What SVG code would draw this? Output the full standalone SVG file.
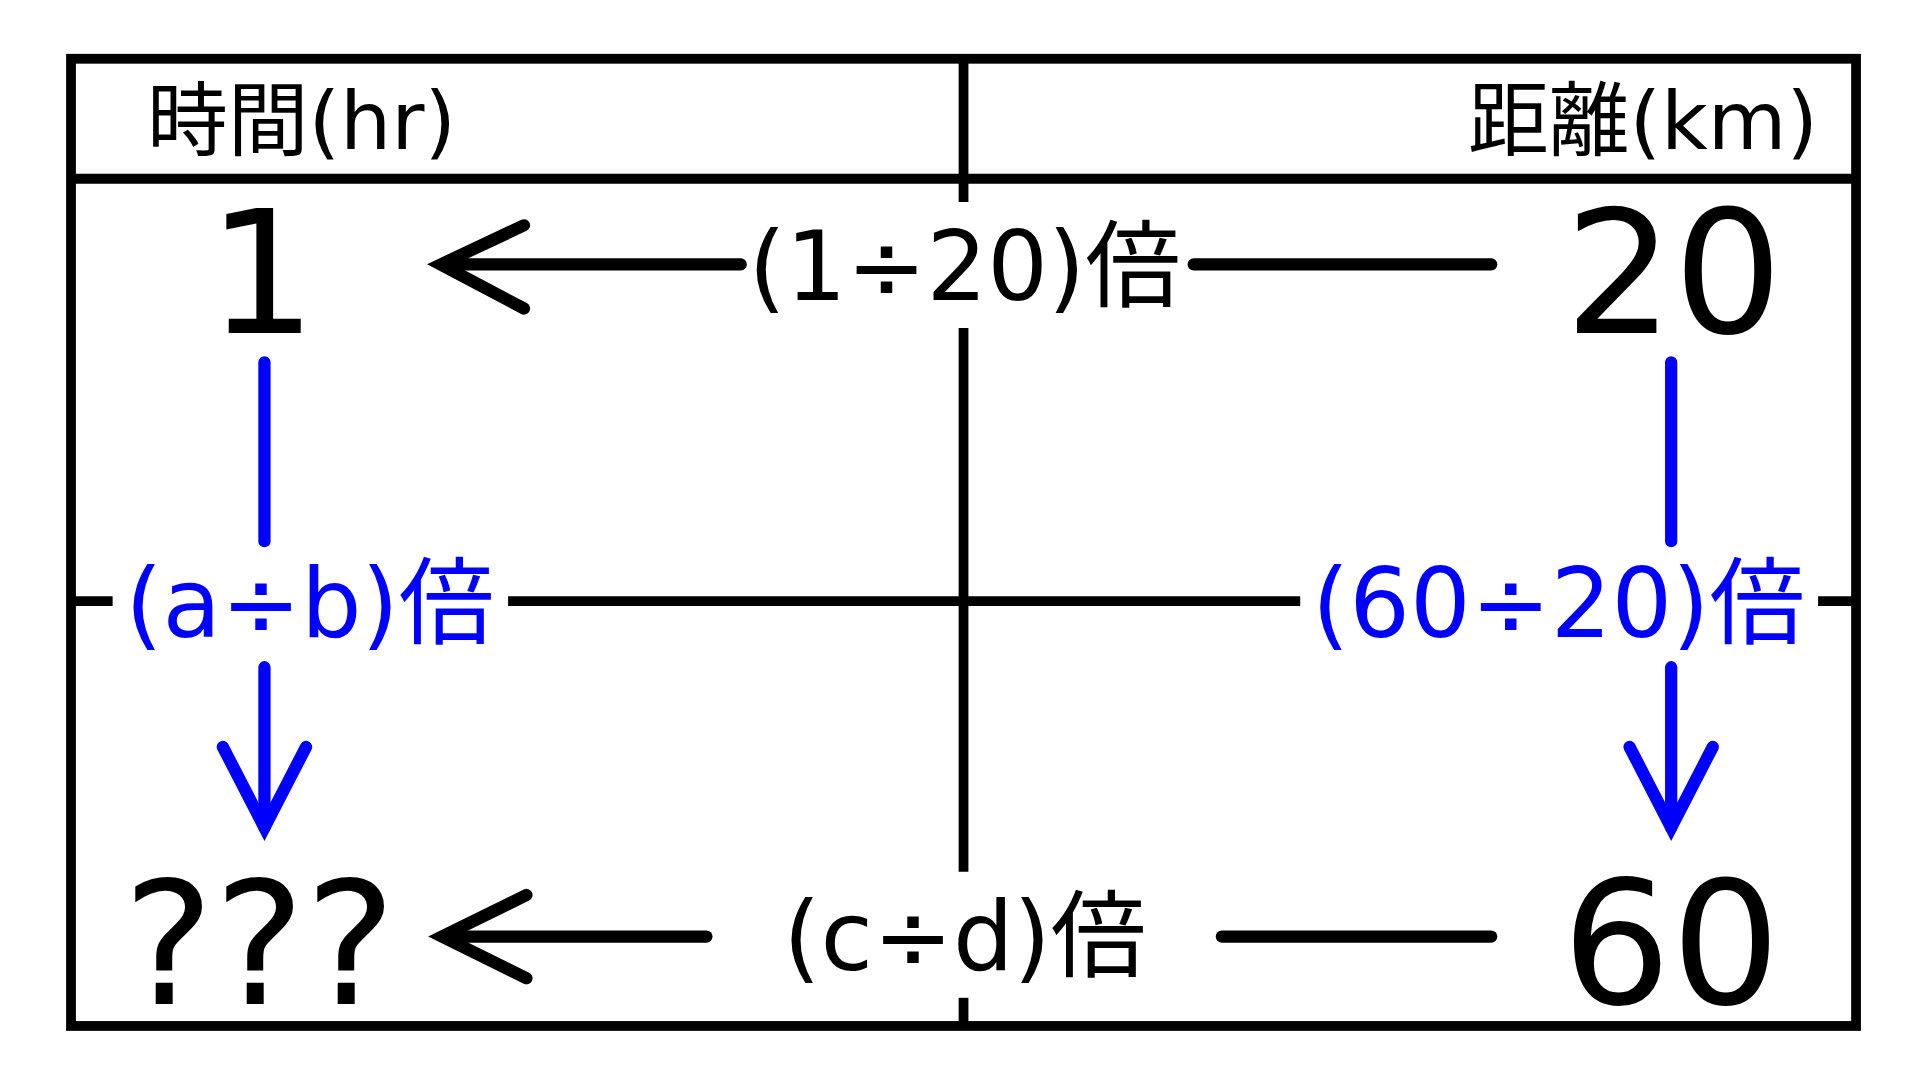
<svg xmlns="http://www.w3.org/2000/svg" width="1920" height="1080" viewBox="0 0 1920 1080">
<style>
.k{stroke:#000;stroke-width:8;fill:none}
.a{stroke:#000;stroke-width:10;fill:none;stroke-linecap:round;stroke-linejoin:miter}
.b{stroke:#0000ff;stroke-width:10;fill:none;stroke-linecap:round}
text{font-family:"DejaVu Sans","Noto Sans CJK JP",sans-serif}
.big{font-size:140px;text-anchor:middle}
.lab{font-size:78px;text-anchor:middle}
.blue{fill:#0000ff}
</style>
<rect width="1920" height="1080" fill="#fff"/>
<g transform="scale(1.2243)">
<g id="grid">
<rect class="k" x="58" y="48" width="1458" height="790"/>
<line class="k" x1="58" y1="146" x2="1516" y2="146"/>
<line class="k" x1="787" y1="48" x2="787" y2="165"/>
<line class="k" x1="787" y1="268" x2="787" y2="712"/>
<line class="k" x1="787" y1="815" x2="787" y2="838"/>
<line class="k" x1="58" y1="491" x2="92" y2="491"/>
<line class="k" x1="415" y1="491" x2="1062" y2="491"/>
<line class="k" x1="1485" y1="491" x2="1516" y2="491"/>
</g>
<g id="header-time"><text x="120" y="122" font-size="66">時間(hr)</text></g>
<g id="header-dist"><text x="1485" y="122" font-size="66" text-anchor="end">距離(km)</text></g>
<g id="n1"><text class="big" x="214" y="272">1</text></g>
<g id="n20"><text class="big" x="1367" y="272">20</text></g>
<g id="nq"><text class="big" x="212" y="820">???</text></g>
<g id="n60"><text class="big" x="1365" y="820">60</text></g>
<g id="connectors">
<line class="a" x1="975" y1="216" x2="1218" y2="216"/>
<line class="a" x1="365" y1="216" x2="605" y2="216"/>
<polyline class="a" points="428,184 360,216 428,252"/>
<text class="lab" x="788" y="245">(1÷20)倍</text>
<line class="a" x1="998" y1="765" x2="1218" y2="765"/>
<line class="a" x1="365" y1="765" x2="577" y2="765"/>
<polyline class="a" points="430,731 361,765 430,799"/>
<text class="lab" x="788" y="792">(c÷d)倍</text>
<line class="b" x1="216" y1="296" x2="216" y2="442"/>
<line class="b" x1="216" y1="545" x2="216" y2="676"/>
<polyline class="b" points="182,610 216,676 250,610"/>
<text class="lab blue" x="253" y="520">(a÷b)倍</text>
<line class="b" x1="1365" y1="296" x2="1365" y2="442"/>
<line class="b" x1="1365" y1="545" x2="1365" y2="676"/>
<polyline class="b" points="1331,610 1365,676 1399,610"/>
<text class="lab blue" x="1273" y="520">(60÷20)倍</text>
</g>
</g>
</svg>
